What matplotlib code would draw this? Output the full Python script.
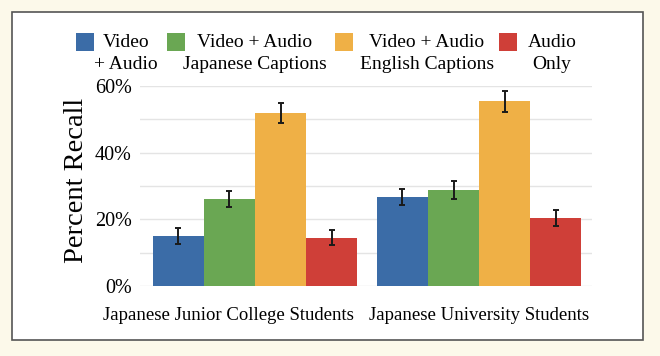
import matplotlib.pyplot as plt
import numpy as np
from matplotlib.patches import Rectangle
from matplotlib.transforms import ScaledTranslation

groups = ["Japanese Junior College Students", "Japanese University Students"]
conditions = ["Video\n+ Audio", "Video + Audio\nJapanese Captions",
              "Video + Audio\nEnglish Captions", "Audio\nOnly"]
colors = ["#3b6ca7", "#6aa753", "#efb046", "#cf3f38"]
recall = [[15.0, 26.7], [26.2, 28.8], [52.0, 55.4], [14.5, 20.4]]
err = [[2.4, 2.5], [2.4, 2.6], [3.0, 3.1], [2.3, 2.4]]

plt.rcParams['font.family'] = ['Liberation Serif', 'DejaVu Serif']

W, H = 660, 356
fig = plt.figure(figsize=(W / 100, H / 100), dpi=100)
fig.patch.set_facecolor("#fcf9ea")
fig.patches.append(Rectangle((12 / W, 1 - 340 / H), 631 / W, 328 / H,
                             transform=fig.transFigure, facecolor="white",
                             edgecolor="#555555", linewidth=1.2, zorder=-5))

ax = fig.add_axes([140 / W, 1 - 286 / H, 452 / W, 200 / H])
ax.set_facecolor("none")
x = np.arange(len(groups))
w = 0.228
for i in range(4):
    ax.bar(x + (i - 1.5) * w, recall[i], w, color=colors[i],
           yerr=err[i], error_kw=dict(ecolor="#1a1a1a", elinewidth=1.4, capsize=2.5, capthick=1.4),
           zorder=3)

ax.set_xlim(-0.513, 1.504)
ax.set_ylim(0, 60)
ax.set_yticks([0, 20, 40, 60])
ax.set_yticklabels(["0%", "20%", "40%", "60%"], fontsize=14.5)
for g in range(0, 61, 10):
    ax.axhline(g, color="#e4e4e4", linewidth=1, zorder=1)
ax.set_xticks(x)
ax.set_xticklabels(groups, fontsize=13.5)
ax.tick_params(axis="y", length=0, pad=6)
ax.tick_params(axis="x", length=0, pad=15)
# first category label is pushed left so the two long labels don't collide
lab0 = ax.get_xticklabels()[0]
lab0.set_transform(lab0.get_transform() + ScaledTranslation(-0.27, 0, fig.dpi_scale_trans))
for s in ax.spines.values():
    s.set_visible(False)
ax.set_ylabel("Percent Recall", fontsize=20.5)
ax.yaxis.set_label_coords(-0.112, 0.527)

# legend drawn by hand: square level with the first line, two centred lines of text
sq_x = [76, 167, 335, 499]
txt_x = [126, 255, 427, 552]
for i in range(4):
    fig.patches.append(Rectangle((sq_x[i] / W, 1 - 51 / H), 18 / W, 18 / H,
                                 transform=fig.transFigure, facecolor=colors[i],
                                 edgecolor="none"))
    fig.text(txt_x[i] / W, 1 - 34 / H, conditions[i], ha="center", va="top",
             multialignment="center", fontsize=14, linespacing=1.38)

fig.savefig("out.png", dpi=100, facecolor=fig.get_facecolor())
